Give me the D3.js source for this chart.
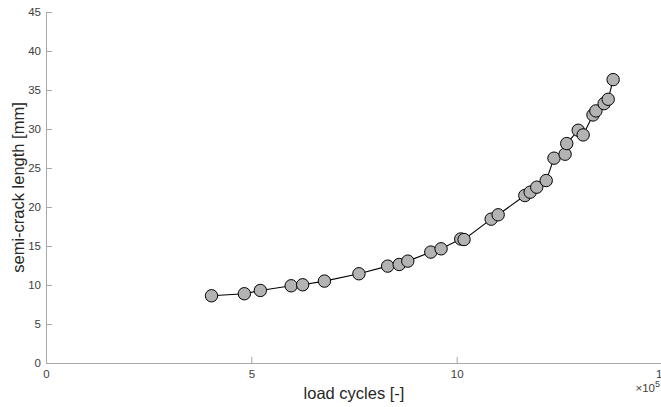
<!DOCTYPE html>
<html>
<head>
<meta charset="utf-8">
<script src="https://cdn.jsdelivr.net/npm/d3@7"></script>
<style>
  body { margin: 0; background: #fff; }
  svg { display: block; font-family: "Liberation Sans", Arial, sans-serif; }
</style>
</head>
<body>
<div id="chart"></div>
<script>
// load cycles (x 10^5) and semi-crack length (mm)
const cycles = [4.03, 4.83, 5.22, 5.97, 6.25, 6.78, 7.62, 8.32, 8.60, 8.81,
                9.37, 9.62, 10.10, 10.18, 10.84, 11.01, 11.66, 11.79, 11.95, 12.18,
                12.37, 12.64, 12.68, 12.96, 13.08, 13.32, 13.39, 13.59, 13.69, 13.81];
const crackLength = [8.62, 8.88, 9.30, 9.90, 10.03, 10.50, 11.44, 12.42, 12.63, 13.06,
                     14.22, 14.64, 15.90, 15.83, 18.44, 19.00, 21.47, 21.90, 22.54, 23.39,
                     26.26, 26.77, 28.13, 29.84, 29.24, 31.80, 32.32, 33.25, 33.81, 36.33];
const xTicks = [0, 5, 10, 15];
const yTicks = [0, 5, 10, 15, 20, 25, 30, 35, 40, 45];

const W = 661, H = 407;
const margin = { top: 12, right: -1, bottom: 44, left: 46 },
    width = W - margin.left - margin.right,
    height = H - margin.top - margin.bottom;

const axisColor = "#a8a8a8", textColor = "#404040";

const svg = d3.select("#chart").append("svg")
    .attr("width", W)
    .attr("height", H);

const g = svg.append("g")
    .attr("transform", "translate(" + margin.left + "," + margin.top + ")");

const x = d3.scaleLinear().domain([0, 15]).range([0, width]);
const y = d3.scaleLinear().domain([0, 45]).range([height, 0]);

// X axis (ticks pointing inward)
const xAxis = g.append("g")
    .attr("transform", "translate(0," + height + ")")
    .call(d3.axisBottom(x).tickValues(xTicks).tickSize(-6).tickPadding(7).tickSizeOuter(0));

// Y axis
const yAxis = g.append("g")
    .call(d3.axisLeft(y).tickValues(yTicks).tickSize(-6).tickPadding(5).tickSizeOuter(0));

[xAxis, yAxis].forEach(a => {
    a.select(".domain").attr("stroke", axisColor);
    a.selectAll(".tick line").attr("stroke", axisColor);
    a.selectAll(".tick text")
        .attr("fill", textColor)
        .style("font-size", "11.5px")
        .style("font-family", "Liberation Sans, Arial, sans-serif");
});

// exponent label, below the last tick label
svg.append("text")
    .attr("x", 660)
    .attr("y", 392)
    .attr("text-anchor", "end")
    .attr("fill", textColor)
    .style("font-size", "11.5px")
    .text("\u00d710")
    .append("tspan")
    .attr("dy", -5)
    .style("font-size", "9px")
    .text("5");

// axis titles
svg.append("text")
    .attr("x", margin.left + width / 2)
    .attr("y", 399)
    .attr("text-anchor", "middle")
    .attr("fill", "#262626")
    .style("font-size", "16.5px")
    .text("load cycles [-]");

svg.append("text")
    .attr("transform", "translate(24," + (margin.top + height / 2) + ") rotate(-90)")
    .attr("text-anchor", "middle")
    .attr("fill", "#262626")
    .style("font-size", "16.5px")
    .text("semi-crack length [mm]");

// line + markers
const pts = cycles.map((c, i) => ({ c: c, v: crackLength[i] }));

g.append("path")
    .datum(pts)
    .attr("fill", "none")
    .attr("stroke", "#000")
    .attr("stroke-width", 1.1)
    .attr("d", d3.line().x(d => x(d.c)).y(d => y(d.v)));

g.selectAll(".dot")
    .data(pts)
    .enter().append("circle")
    .attr("class", "dot")
    .attr("cx", d => x(d.c))
    .attr("cy", d => y(d.v))
    .attr("r", 6.2)
    .attr("fill", "#b3b3b3")
    .attr("stroke", "#000")
    .attr("stroke-width", 1);
</script>
</body>
</html>
